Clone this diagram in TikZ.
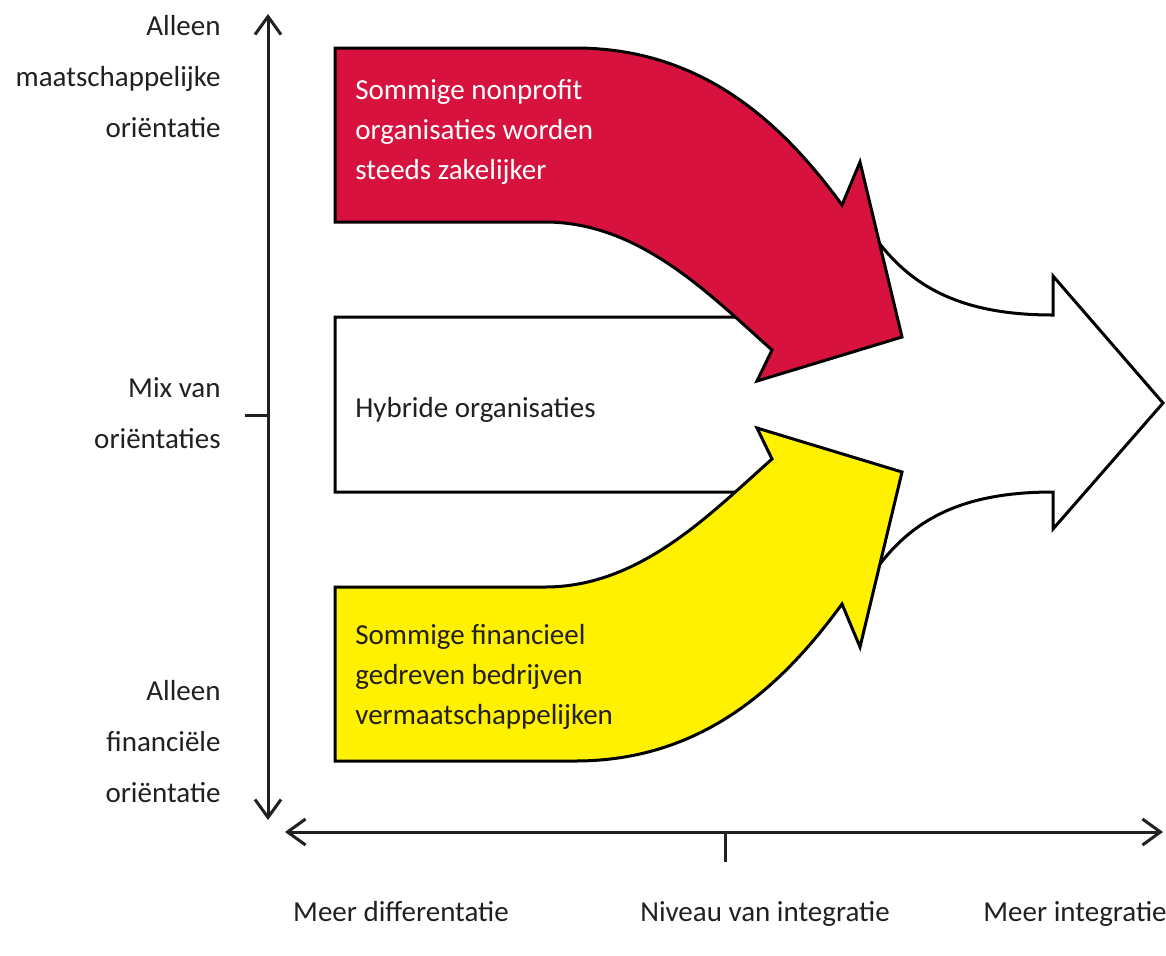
\documentclass[tikz,border=0pt]{standalone}
\usepackage{fontspec}
\setmainfont{Carlito}
\usetikzlibrary{arrows.meta, positioning}

\definecolor{orgred}{RGB}{215,18,62}
\definecolor{orgyellow}{RGB}{255,241,0}
\definecolor{inktext}{RGB}{35,31,32}

\tikzset{
    outline/.style={draw=black, line width=1.5pt, line join=miter},
    axisline/.style={draw=inktext, line width=1.5pt},
    axistip/.tip={Straight Barb[length=9pt, width=13pt]},
    boxtext/.style={font=\fontsize{14.5}{20}\selectfont, align=left, anchor=west, inner sep=0pt},
    sidelabel/.style={font=\fontsize{14.5}{25.5}\selectfont, text=inktext, align=right, anchor=east, inner sep=0pt},
    bottomlabel/.style={font=\fontsize{14.5}{20}\selectfont, text=inktext, anchor=base, inner sep=0pt}
}

% one bent arrow, drawn twice (the yellow one mirrored)
\def\bentarrow{(335,48) -- (575,48) .. controls (700,48) and (780,120) .. (842,205)
    -- (860,162) -- (902,337) -- (757,381) -- (772,350)
    .. controls (710,295) and (640,222) .. (545,222) -- (335,222) -- cycle}

\begin{document}
\begin{tikzpicture}[x=0.5pt, y=-0.5pt]
    \useasboundingbox (0,0) rectangle (1166,955);

    % Axes
    \coordinate (ytop) at (268,14);
    \coordinate (ybot) at (268,820);
    \coordinate (ymid) at (268,415);
    \coordinate (xleft) at (285,832);
    \coordinate (xright) at (1163,832);
    \coordinate (xmid) at (725,832);
    \draw[axisline, axistip-axistip] (ytop) -- (ybot);
    \draw[axisline, axistip-axistip] (xleft) -- (xright);
    \draw[axisline] (ymid) -- ++(-23,0);
    \draw[axisline] (xmid) -- ++(0,30);

    % White arrow (hybrid)
    \filldraw[outline, fill=white] (335,317) -- (800,317) -- (858,211)
        .. controls (897,280) and (950,315) .. (1053,315) -- (1053,276)
        -- (1163,403) -- (1053,529) -- (1053,492)
        .. controls (950,492) and (897,527) .. (858,598)
        -- (800,492) -- (335,492) -- cycle;

    % Red arrow
    \filldraw[outline, fill=orgred] \bentarrow;

    % Yellow arrow
    \begin{scope}[shift={(0,809)}, yscale=-1]
        \filldraw[outline, fill=orgyellow] \bentarrow;
    \end{scope}

    % Texts in the arrows
    \node[boxtext, text=white] (redtext) at (355,132)
        {Sommige nonprofit\\organisaties worden\\steeds zakelijker};
    \node[boxtext, text=inktext] (hybridtext) at (355,410) {Hybride organisaties};
    \node[boxtext, text=inktext] (yellowtext) at (355,677)
        {Sommige financieel\\gedreven bedrijven\\vermaatschappelijken};

    % Axis labels
    \node[sidelabel] (socialonly) at (221,77) {Alleen\\maatschappelijke\\oriëntatie};
    \node[sidelabel] (mixed) at (221,413) {Mix van\\oriëntaties};
    \node[sidelabel] (financialonly) at (221,742) {Alleen\\financiële\\oriëntatie};
    \node[bottomlabel] (lessint) at (401,921) {Meer differentatie};
    \node[bottomlabel] (intlevel) at (765,921) {Niveau van integratie};
    \node[bottomlabel] (moreint) at (1075,921) {Meer integratie};
\end{tikzpicture}
\end{document}
